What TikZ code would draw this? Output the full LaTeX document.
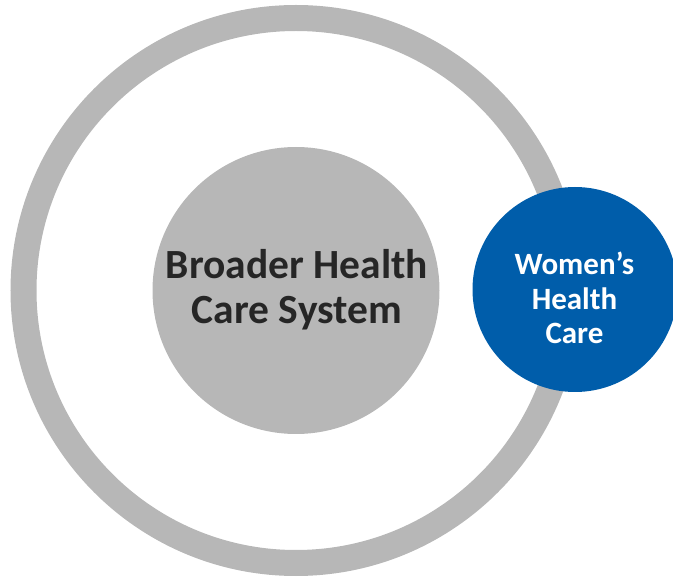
\documentclass[tikz,border=0pt]{standalone}
\usepackage{fontspec}
\setmainfont{Carlito}
\newlength{\du}
\setlength{\du}{1pt}
\begin{document}
\begin{tikzpicture}[even odd rule]
\pgftransformxscale{1.000000}
\pgftransformyscale{-1.000000}
\useasboundingbox (0\du,0\du) rectangle (673\du,580\du);
\definecolor{dialinecolor}{rgb}{0.717647, 0.717647, 0.717647}
\pgfsetstrokecolor{dialinecolor}
\pgfsetstrokeopacity{1.000000}
\definecolor{diafillcolor}{rgb}{0.717647, 0.717647, 0.717647}
\pgfsetfillcolor{diafillcolor}
\pgfsetfillopacity{1.000000}
\pgfsetlinewidth{26.000000\du}
\pgfsetdash{}{0pt}
% outer ring
\draw (296.000000\du,290.500000\du) circle (272.500000\du);
% inner disc
\fill (296.000000\du,290.500000\du) circle (143.500000\du);
\definecolor{dialinecolor}{rgb}{0.149020, 0.149020, 0.149020}
\node (broader)[anchor=base,inner sep=0pt, outer sep=0pt,color=dialinecolor,font=\bfseries\fontsize{41.5}{45}\selectfont,align=center] at (297.000000\du,324.000000\du){Broader Health\\Care System};
% women's health care disc
\definecolor{diafillcolor}{rgb}{0.000000, 0.364706, 0.666667}
\pgfsetfillcolor{diafillcolor}
\fill (575.000000\du,289.500000\du) circle (102.500000\du);
\definecolor{dialinecolor}{rgb}{1.000000, 1.000000, 1.000000}
\node (women)[anchor=base,inner sep=0pt, outer sep=0pt,color=dialinecolor,font=\bfseries\fontsize{31}{34.5}\selectfont,align=center] at (574.500000\du,344.000000\du){Women’s\\Health\\Care};
\end{tikzpicture}
\end{document}
